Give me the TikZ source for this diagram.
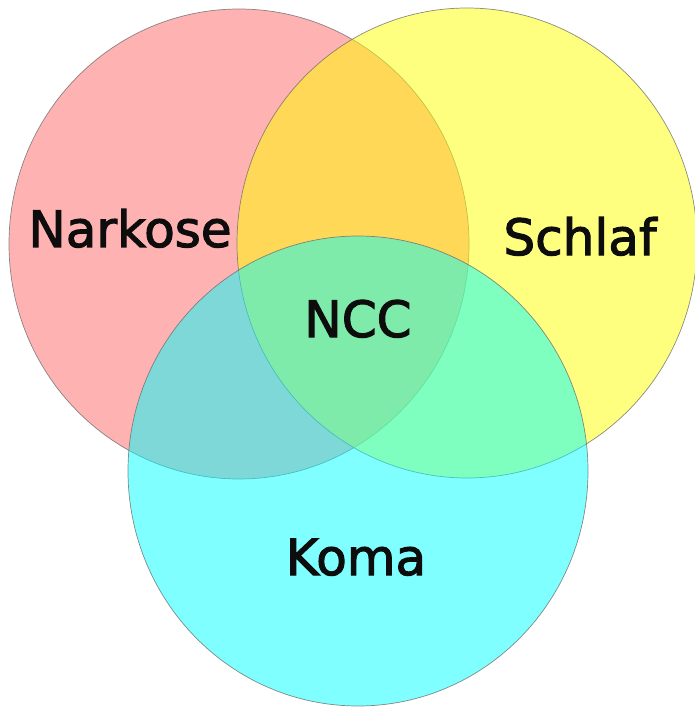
\documentclass[tikz,border=0pt]{standalone}
\usepackage{fontspec}
\setmainfont{DejaVu Sans}
\newfontfamily\lblfont{DejaVu Sans}[FakeBold=2.2]
\definecolor{vred}{RGB}{255,0,0}
\definecolor{vyellow}{RGB}{255,255,0}
\definecolor{vcyan}{RGB}{0,255,255}
\definecolor{vedge}{RGB}{110,110,110}
\begin{document}
\begin{tikzpicture}[x=1pt,y=-1pt,
  rim/.style={draw=vedge,draw opacity=0.8,line width=0.7pt},
  lbl/.style={inner sep=0pt,anchor=base,text=black!95,font=\lblfont\fontsize{50}{60}\selectfont}]
\useasboundingbox[fill=white] (0,0) rectangle (694,708);
\fill[vred,fill opacity=0.3] (239,244) ellipse [x radius=230,y radius=235];
\draw[rim] (239,244) ellipse [x radius=230,y radius=235];
\fill[vyellow,fill opacity=0.5] (467,243) ellipse [x radius=230,y radius=235];
\draw[rim] (467,243) ellipse [x radius=230,y radius=235];
\fill[vcyan,fill opacity=0.5] (358,471) ellipse [x radius=230,y radius=235];
\draw[rim] (358,471) ellipse [x radius=230,y radius=235];
\node[lbl] (narkose) at (130,247) {Narkose};
\node[lbl] (schlaf) at (580,255) {Schlaf};
\node[lbl] (ncc) at (358,337) {NCC};
\node[lbl] (koma) at (356,575) {Koma};
\end{tikzpicture}
\end{document}
